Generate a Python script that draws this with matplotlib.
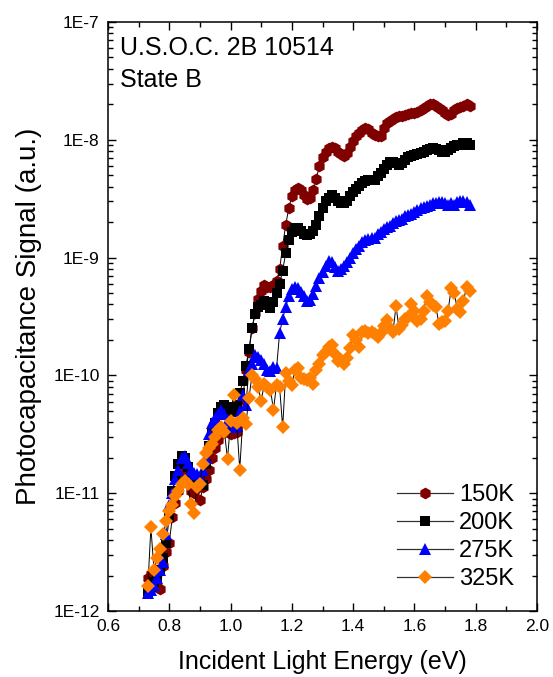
import numpy as np
import matplotlib
matplotlib.use("Agg")
import matplotlib.pyplot as plt
from matplotlib.ticker import FixedLocator, LogLocator, NullFormatter, FuncFormatter

plt.rcParams['font.family'] = ['Liberation Sans', 'DejaVu Sans']

# Energias de la medida (eV)
energy = [0.73, 0.74, 0.75, 0.76, 0.77, 0.78, 0.79, 0.80, 0.81, 0.82,
          0.83, 0.84, 0.85, 0.86, 0.87, 0.88, 0.89, 0.90, 0.91, 0.92,
          0.93, 0.94, 0.95, 0.96, 0.97, 0.98, 0.99, 1.00, 1.01, 1.02,
          1.03, 1.04, 1.05, 1.06, 1.07, 1.08, 1.09, 1.10, 1.11, 1.12,
          1.13, 1.14, 1.15, 1.16, 1.17, 1.18, 1.19, 1.20, 1.21, 1.22,
          1.23, 1.24, 1.25, 1.26, 1.27, 1.28, 1.29, 1.30, 1.31, 1.32,
          1.33, 1.34, 1.35, 1.36, 1.37, 1.38, 1.39, 1.40, 1.41, 1.42,
          1.43, 1.44, 1.45, 1.46, 1.47, 1.48, 1.49, 1.50, 1.51, 1.52,
          1.53, 1.54, 1.55, 1.56, 1.57, 1.58, 1.59, 1.60, 1.61, 1.62,
          1.63, 1.64, 1.65, 1.66, 1.67, 1.68, 1.69, 1.70, 1.71, 1.72,
          1.73, 1.74, 1.75, 1.76, 1.77, 1.78]

# log10 de la senal de fotocapacitancia para cada temperatura
log_150K = [-11.72, -11.69, -11.75, -11.80, -11.81, -11.62, -11.50, -11.42, -11.20, -11.08,
            -10.98, -10.88, -10.82, -10.90, -10.98, -11.00, -10.96, -11.06, -10.95, -10.88,
            -10.80, -10.70, -10.62, -10.55, -10.50, -10.46, -10.48, -10.50, -10.49, -10.48,
            -10.40, -10.20, -9.95, -9.80, -9.60, -9.47, -9.35, -9.28, -9.23, -9.25,
            -9.25, -9.23, -9.20, -9.10, -8.90, -8.72, -8.58, -8.48, -8.43, -8.41,
            -8.43, -8.47, -8.50, -8.49, -8.43, -8.33, -8.22, -8.15, -8.10, -8.07,
            -8.06, -8.07, -8.10, -8.12, -8.14, -8.11, -8.06, -8.01, -7.97, -7.94,
            -7.92, -7.90, -7.91, -7.94, -7.96, -7.97, -7.97, -7.90, -7.86, -7.84,
            -7.82, -7.81, -7.80, -7.80, -7.79, -7.78, -7.77, -7.77, -7.76, -7.75,
            -7.73, -7.71, -7.70, -7.70, -7.71, -7.73, -7.75, -7.77, -7.79, -7.78,
            -7.75, -7.73, -7.72, -7.71, -7.70, -7.71]

log_200K = [-11.85, -11.80, -11.75, -11.72, -11.65, -11.55, -11.42, -11.20, -10.98, -10.85,
            -10.75, -10.68, -10.70, -10.78, -10.85, -10.90, -10.88, -10.92, -10.93, -10.75,
            -10.60, -10.48, -10.40, -10.32, -10.27, -10.25, -10.27, -10.30, -10.31, -10.25,
            -10.15, -10.05, -9.92, -9.78, -9.60, -9.48, -9.42, -9.40, -9.37, -9.40,
            -9.43, -9.38, -9.30, -9.22, -9.11, -8.96, -8.85, -8.78, -8.75, -8.75,
            -8.77, -8.80, -8.81, -8.80, -8.77, -8.72, -8.65, -8.58, -8.52, -8.49,
            -8.47, -8.49, -8.52, -8.54, -8.54, -8.52, -8.48, -8.44, -8.42, -8.39,
            -8.37, -8.35, -8.34, -8.34, -8.34, -8.31, -8.28, -8.25, -8.21, -8.19,
            -8.19, -8.20, -8.21, -8.20, -8.17, -8.15, -8.14, -8.13, -8.12, -8.11,
            -8.10, -8.09, -8.08, -8.07, -8.08, -8.09, -8.10, -8.10, -8.09, -8.07,
            -8.05, -8.04, -8.04, -8.03, -8.03, -8.04]

log_275K = [-11.85, -11.82, -11.78, -11.72, -11.65, -11.58, -11.35, -11.10, -11.00, -10.88,
            -10.80, -10.70, -10.68, -10.74, -10.80, -10.83, -10.84, -10.86, -10.80, -10.70,
            -10.50, -10.40, -10.36, -10.33, -10.29, -10.33, -10.38, -10.42, -10.44, -10.43,
            -10.30, -10.17, -10.25, -9.95, -9.90, -9.83, -9.84, -9.87, -9.90, -9.95,
            -9.96, -9.93, -9.94, -9.64, -9.52, -9.42, -9.33, -9.27, -9.25, -9.26,
            -9.29, -9.33, -9.37, -9.36, -9.31, -9.24, -9.17, -9.12, -9.07, -9.03,
            -9.04, -9.08, -9.11, -9.10, -9.07, -9.04, -9.00, -8.96, -8.93, -8.90,
            -8.87, -8.85, -8.84, -8.83, -8.83, -8.80, -8.78, -8.76, -8.74, -8.73,
            -8.71, -8.69, -8.68, -8.67, -8.65, -8.64, -8.63, -8.61, -8.60, -8.58,
            -8.57, -8.56, -8.55, -8.54, -8.54, -8.53, -8.53, -8.54, -8.55, -8.54,
            -8.55, -8.53, -8.52, -8.52, -8.53, -8.55]

log_325K = [-11.79, -11.29, -11.65, -11.55, -11.47, -11.35, -11.24, -11.15, -11.10, -11.02,
            -10.98, -10.92, -10.90, -10.92, -11.09, -11.17, -10.95, -10.92, -10.75, -10.66,
            -10.62, -10.58, -10.52, -10.46, -10.44, -10.48, -10.71, -10.39, -10.17, -10.40,
            -10.80, -10.36, -10.41, -10.19, -10.00, -10.03, -10.10, -10.22, -10.07, -10.10,
            -10.12, -10.29, -10.08, -10.10, -10.44, -9.98, -10.05, -10.08, -9.95, -9.94,
            -10.02, -10.03, -10.04, -10.02, -10.07, -9.95, -9.90, -9.83, -9.80, -9.76,
            -9.74, -9.82, -9.88, -9.87, -9.90, -9.85, -9.77, -9.66, -9.70, -9.76,
            -9.63, -9.62, -9.64, -9.63, -9.65, -9.67, -9.64, -9.58, -9.53, -9.60,
            -9.63, -9.41, -9.61, -9.57, -9.52, -9.50, -9.39, -9.45, -9.54, -9.52,
            -9.45, -9.33, -9.38, -9.40, -9.42, -9.56, -9.55, -9.54, -9.45, -9.26,
            -9.30, -9.44, -9.46, -9.37, -9.25, -9.28]

labels = ['150K', '200K', '275K', '325K']
series = [log_150K, log_200K, log_275K, log_325K]
markers = ['h', 's', '^', 'D']
colors = ['#800000', '#000000', '#0000FF', '#FF8000']
sizes = [8.5, 7.0, 9.0, 7.5]

fig = plt.figure(figsize=(5.53, 6.77), dpi=100)
ax = fig.add_axes([108/553, 1 - 611/677, 429/553, 589/677])

for lab, vals, mk, col, ms in zip(labels, series, markers, colors, sizes):
    ax.plot(energy, 10.0**np.array(vals), '-', color='black', lw=0.7,
            marker=mk, markersize=ms, markerfacecolor=col, markeredgecolor=col,
            markeredgewidth=0, label=lab)

ax.set_yscale('log')
ax.set_xlim(0.6, 2.0)
ax.set_ylim(1e-12, 1e-7)

ax.xaxis.set_major_locator(FixedLocator([0.6, 0.8, 1.0, 1.2, 1.4, 1.6, 1.8, 2.0]))
ax.xaxis.set_minor_locator(FixedLocator([0.7, 0.9, 1.1, 1.3, 1.5, 1.7, 1.9]))
ax.xaxis.set_major_formatter(FuncFormatter(lambda v, p: '%.1f' % v))
ax.yaxis.set_major_locator(LogLocator(base=10, numticks=10))
ax.yaxis.set_minor_locator(LogLocator(base=10, subs=np.arange(2, 10), numticks=20))
ax.yaxis.set_minor_formatter(NullFormatter())
ax.yaxis.set_major_formatter(FuncFormatter(lambda v, p: '1E%d' % round(np.log10(v))))

ax.tick_params(which='both', direction='in', top=True, right=True, width=1.0)
ax.tick_params(which='major', length=6, labelsize=12.5, pad=6)
ax.tick_params(which='minor', length=3.5)
for sp in ax.spines.values():
    sp.set_linewidth(1.1)

ax.set_xlabel('Incident Light Energy (eV)', fontsize=18, labelpad=11)
ax.set_ylabel('Photocapacitance Signal (a.u.)', fontsize=20, labelpad=8)

ax.text(0.028, 0.944, 'U.S.O.C. 2B 10514', transform=ax.transAxes, fontsize=18,
        va='baseline', ha='left')
ax.text(0.028, 0.890, 'State B', transform=ax.transAxes, fontsize=18,
        va='baseline', ha='left')

leg = ax.legend(loc='upper left', bbox_to_anchor=(0.674, 0.216), frameon=False,
                fontsize=17, handlelength=2.35, handletextpad=0.28, labelspacing=0.26,
                borderpad=0, borderaxespad=0)
for h in leg.get_lines():
    h.set_color('#333333')
    h.set_linewidth(0.9)

fig.savefig('out.png', dpi=100)
